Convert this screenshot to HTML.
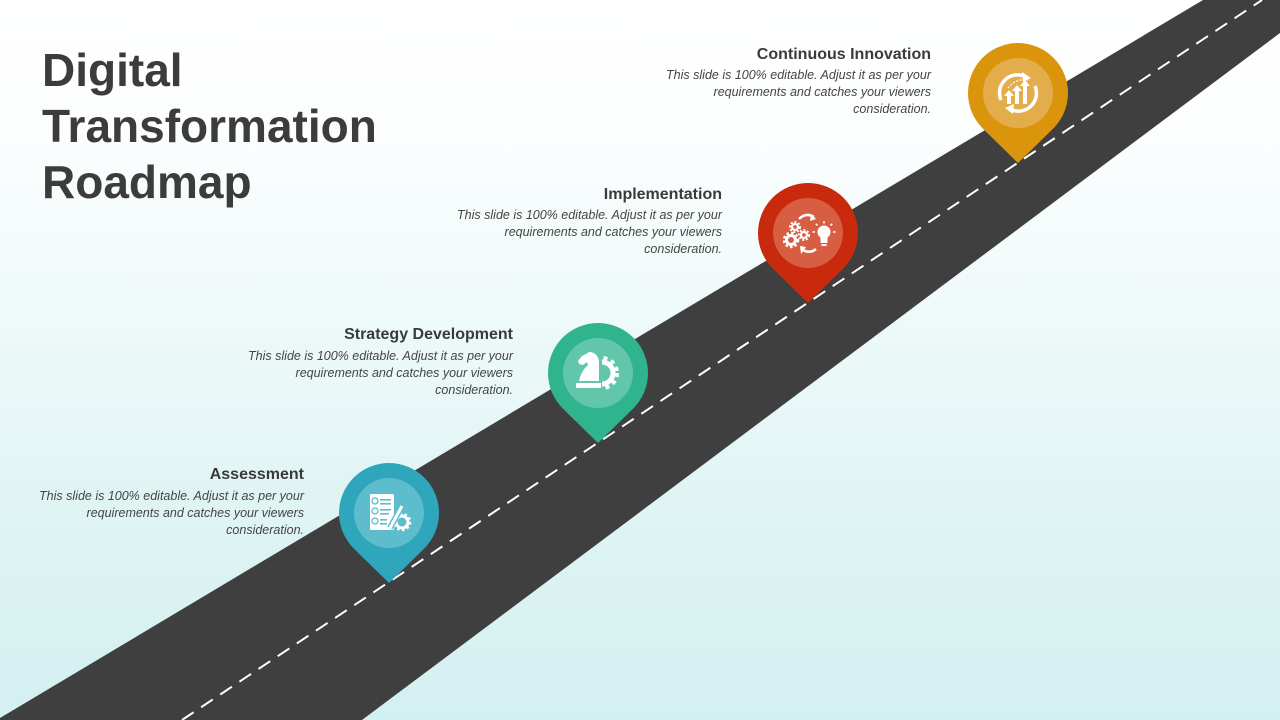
<!DOCTYPE html>
<html>
<head>
<meta charset="utf-8">
<style>
  html,body{margin:0;padding:0;}
  body{width:1280px;height:720px;overflow:hidden;position:relative;
    background:linear-gradient(to bottom,#ffffff 0%,#fcfefe 18%,#eef9f9 45%,#e0f4f4 70%,#d3f0f0 100%);
    font-family:"Liberation Sans",Arial,sans-serif;}
  svg{position:absolute;left:0;top:0;}
  .title{position:absolute;left:42px;top:42px;font-size:46px;font-weight:bold;line-height:56px;color:#3c3c3c;letter-spacing:0px;}
  .h{position:absolute;font-size:16px;font-weight:bold;line-height:20px;color:#3a3a3a;text-align:right;white-space:nowrap;}
  .b{position:absolute;font-size:12.5px;font-style:italic;line-height:17px;color:#444;text-align:right;white-space:nowrap;}
</style>
</head>
<body>
<svg width="1280" height="720" viewBox="0 0 1280 720">
  <defs>
    <clipPath id="rightHalf"><rect x="602" y="340" width="40" height="70"/></clipPath>
  </defs>
  <!-- road -->
  <polygon points="0,718 1203,0 1280,0 1280,33 362,720 0,720" fill="#3f3f3f"/>
  <line x1="182" y1="720" x2="1262" y2="0" stroke="#ffffff" stroke-width="2" stroke-dasharray="14 9"/>

  <!-- Pin 1: Assessment -->
  <path d="M389,583 L354,548.7 A50,50 0 1 1 424,548.7 Z" fill="#2fa6bb"/>
  <circle cx="389" cy="513" r="35" fill="#5dbdcc"/>
  <g>
    <rect x="370" y="494" width="24" height="36" rx="1.5" fill="#fff"/>
    <circle cx="375" cy="501" r="3" fill="none" stroke="#5dbdcc" stroke-width="1.3"/>
    <circle cx="375" cy="511" r="3" fill="none" stroke="#5dbdcc" stroke-width="1.3"/>
    <circle cx="375" cy="521" r="3" fill="none" stroke="#5dbdcc" stroke-width="1.3"/>
    <rect x="380" y="499" width="11" height="1.6" fill="#5dbdcc"/>
    <rect x="380" y="503" width="11" height="1.6" fill="#5dbdcc"/>
    <rect x="380" y="509" width="11" height="1.6" fill="#5dbdcc"/>
    <rect x="380" y="513" width="9" height="1.6" fill="#5dbdcc"/>
    <rect x="380" y="519" width="7" height="1.6" fill="#5dbdcc"/>
    <rect x="380" y="523" width="7" height="1.6" fill="#5dbdcc"/>
    <circle cx="402" cy="522" r="6" fill="none" stroke="#fff" stroke-width="3"/>
    <circle cx="402" cy="522" r="8" fill="none" stroke="#fff" stroke-width="2.5" stroke-dasharray="2.5 2.5"/>
    <line x1="402" y1="506" x2="390" y2="528" stroke="#5dbdcc" stroke-width="6"/>
    <line x1="402" y1="506" x2="390" y2="528" stroke="#fff" stroke-width="3"/>
  </g>

  <!-- Pin 2: Strategy -->
  <path d="M598,443 L563,408.7 A50,50 0 1 1 633,408.7 Z" fill="#2fb48e"/>
  <circle cx="598" cy="373" r="35" fill="#62c6aa"/>
  <g>
    <g clip-path="url(#rightHalf)">
      <circle cx="602" cy="373" r="11" fill="none" stroke="#fff" stroke-width="5"/>
      <circle cx="602" cy="373" r="15" fill="none" stroke="#fff" stroke-width="4" stroke-dasharray="4 4"/>
    </g>
    <path d="M579,381 L599,381 L599,361 Q597,352 589,352 L586,354 L582,356 L578,361 L579,364 L583,365 L587,362 L588,365 Q581,371 579,381 Z" fill="#fff"/>
    <rect x="576" y="383" width="25" height="5" fill="#fff"/>
  </g>

  <!-- Pin 3: Implementation -->
  <path d="M808,303 L773,268.7 A50,50 0 1 1 843,268.7 Z" fill="#c92a0e"/>
  <circle cx="808" cy="233" r="35" fill="#d75e43"/>
  <g fill="none" stroke="#fff">
    <circle cx="791" cy="240" r="4.5" stroke-width="3"/>
    <circle cx="791" cy="240" r="7" stroke-width="2.5" stroke-dasharray="2.5 2.2"/>
    <circle cx="795" cy="227" r="3" stroke-width="2.2"/>
    <circle cx="795" cy="227" r="5" stroke-width="2" stroke-dasharray="2 1.8"/>
    <circle cx="804" cy="235" r="3" stroke-width="2.2"/>
    <circle cx="804" cy="235" r="5" stroke-width="2" stroke-dasharray="2 1.8"/>
    <path d="M799,219 Q806,212 814,217" stroke-width="2.5"/>
    <path d="M816,249 Q810,254 803,250" stroke-width="2.5"/>
  </g>
  <g fill="#fff">
    <polygon points="811,214 816,219 810,221"/>
    <polygon points="800,246 806,247 801,254"/>
    <circle cx="824" cy="232" r="6.5"/>
    <rect x="820.5" y="237" width="7" height="6"/>
    <rect x="821.5" y="244" width="5" height="2"/>
  </g>
  <g stroke="#fff" stroke-width="1.5">
    <line x1="824" y1="221" x2="824" y2="223.5"/>
    <line x1="815" y1="232" x2="812.5" y2="232"/>
    <line x1="833" y1="232" x2="835.5" y2="232"/>
    <line x1="817.5" y1="225.5" x2="815.8" y2="223.8"/>
    <line x1="830.5" y1="225.5" x2="832.2" y2="223.8"/>
  </g>

  <!-- Pin 4: Continuous Innovation -->
  <path d="M1018,163 L983,128.7 A50,50 0 1 1 1053,128.7 Z" fill="#da950c"/>
  <circle cx="1018" cy="93" r="35" fill="#e3ad4b"/>
  <g fill="none" stroke="#fff" stroke-width="3.5">
    <path d="M1001,100 A18,18 0 0 1 1026,77"/>
    <path d="M1035,86 A18,18 0 0 1 1010,109"/>
  </g>
  <g fill="#fff">
    <polygon points="1022,72 1031,78 1023,82"/>
    <polygon points="1014,104 1005,108 1013,114"/>
    <rect x="1007" y="95" width="4" height="9"/>
    <polygon points="1004,96 1009,90 1014,96"/>
    <rect x="1015" y="90" width="4" height="14"/>
    <polygon points="1012,91 1017,85 1022,91"/>
    <rect x="1023" y="85" width="4" height="19"/>
    <polygon points="1020,86 1025,80 1030,86"/>
  </g>
  <path d="M1008,88 Q1016,78 1028,80" fill="none" stroke="#fff" stroke-width="1.2" stroke-dasharray="2 1.5"/>
</svg>

<div class="title">Digital<br>Transformation<br>Roadmap</div>

<div class="h" style="right:976px;top:465px;">Assessment</div>
<div class="b" style="right:976px;top:488px;">This slide is 100% editable. Adjust it as per your<br>requirements and catches your viewers<br>consideration.</div>

<div class="h" style="right:767px;top:325px;">Strategy Development</div>
<div class="b" style="right:767px;top:348px;">This slide is 100% editable. Adjust it as per your<br>requirements and catches your viewers<br>consideration.</div>

<div class="h" style="right:558px;top:185px;">Implementation</div>
<div class="b" style="right:558px;top:207px;">This slide is 100% editable. Adjust it as per your<br>requirements and catches your viewers<br>consideration.</div>

<div class="h" style="right:349px;top:45px;">Continuous Innovation</div>
<div class="b" style="right:349px;top:67px;">This slide is 100% editable. Adjust it as per your<br>requirements and catches your viewers<br>consideration.</div>
</body>
</html>
